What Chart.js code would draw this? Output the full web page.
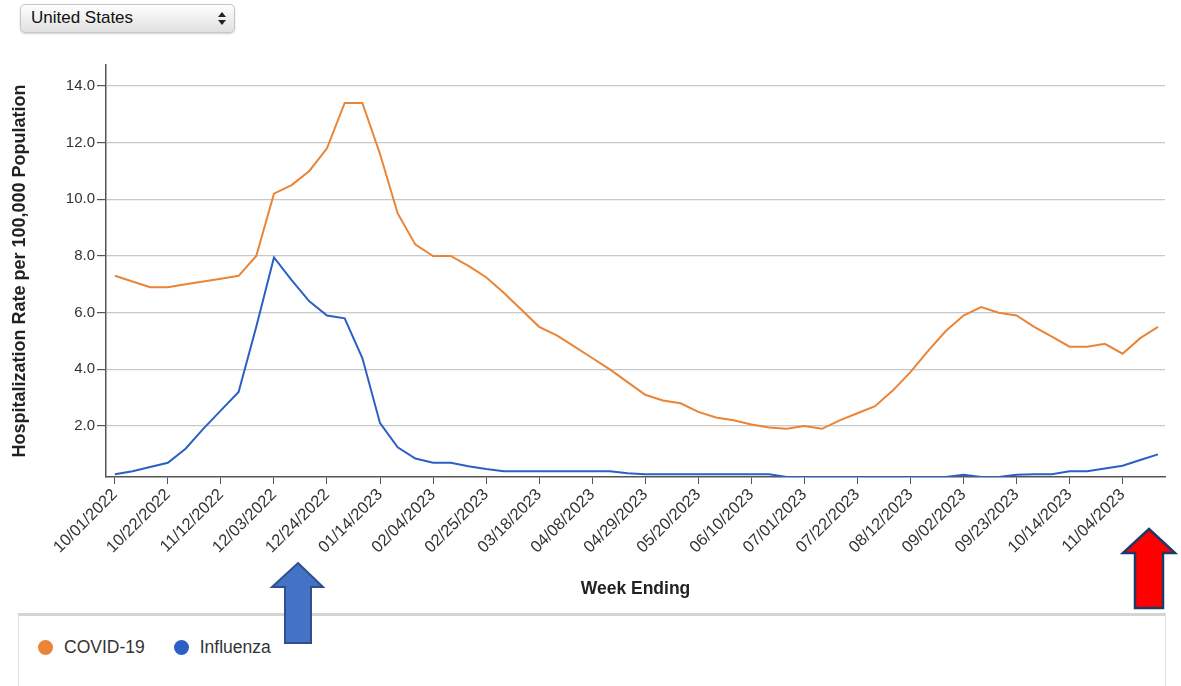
<!DOCTYPE html>
<html>
<head>
<meta charset="utf-8">
<script src="https://cdn.jsdelivr.net/npm/chart.js@4.4.0/dist/chart.umd.min.js"></script>
<style>
  body { margin: 0; background: #fff; font-family: "Liberation Sans", Arial, sans-serif; }
  #wrap { position: relative; width: 1181px; height: 686px; overflow: hidden; }
  #sel {
    position: absolute; left: 20px; top: 4px; width: 215px; height: 29px; box-sizing: border-box;
    border: 1px solid #c6c6c6; border-radius: 5px; background: linear-gradient(#fefefe, #e0e0e0);
    box-shadow: 0 1px 2px rgba(0,0,0,.18); font-size: 17px; line-height: 26px; padding-left: 10px; color: #111;
  }
  #sel .up, #sel .dn { position: absolute; right: 8px; width: 0; height: 0; border-left: 4px solid transparent; border-right: 4px solid transparent; }
  #sel .up { top: 7px; border-bottom: 5px solid #222; }
  #sel .dn { top: 15px; border-top: 5px solid #222; }
  #chartBox { position: absolute; left: 0; top: 0; width: 1181px; height: 610px; }
  #legend {
    position: absolute; left: 18px; top: 613px; width: 1148px; height: 90px; box-sizing: border-box;
    border: 1px solid #e4e4e4; border-top: 3px solid #d4d4d4; padding: 21px 0 0 19px;
  }
  .item { display: inline-flex; align-items: center; margin-right: 29px; font-size: 17.5px; color: #333; }
  .dot { width: 15px; height: 15px; border-radius: 50%; margin-right: 11px; }
  svg { position: absolute; left: 0; top: 0; }
</style>
</head>
<body>
<div id="wrap">
  <div id="sel">United States<i class="up"></i><i class="dn"></i></div>
  <div id="chartBox"><canvas id="hosp"></canvas></div>
  <div id="legend"></div>
  <svg width="1181" height="686">
    <polygon points="298,563 323,587 311,587 311,643 285,643 285,587 272,587" fill="#4472c4" stroke="#2f4f8f" stroke-width="2"/>
    <polygon points="1149,529 1175,553 1163,553 1163,608 1135,608 1135,553 1123,553" fill="#ff0000" stroke="#1f3864" stroke-width="2.5"/>
  </svg>
</div>
<script>
// week ending dates, weekly from 10/01/2022
const weeks = [];
for (let i = 0; i < 60; i++) {
  const d = new Date(Date.UTC(2022, 9, 1 + i * 7));
  const mm = String(d.getUTCMonth() + 1).padStart(2, '0');
  const dd = String(d.getUTCDate()).padStart(2, '0');
  weeks.push(mm + '/' + dd + '/' + d.getUTCFullYear());
}
const tickIdx = [0, 3, 6, 9, 12, 15, 18, 21, 24, 27, 30, 33, 36, 39, 42, 45, 48, 51, 54, 57];
const yTicks = [2, 4, 6, 8, 10, 12, 14];

const covid = [7.3, 7.1, 6.9, 6.9, 7.0, 7.1, 7.2, 7.3, 8.0, 10.2,
  10.5, 11.0, 11.8, 13.4, 13.4, 11.6, 9.5, 8.4, 8.0, 8.0,
  7.65, 7.25, 6.7, 6.1, 5.5, 5.2, 4.8, 4.4, 4.0, 3.55,
  3.1, 2.9, 2.8, 2.5, 2.3, 2.2, 2.05, 1.95, 1.9, 2.0,
  1.9, 2.2, 2.45, 2.7, 3.25, 3.9, 4.65, 5.35, 5.9, 6.2,
  6.0, 5.9, 5.5, 5.15, 4.8, 4.8, 4.9, 4.55, 5.1, 5.5];
const flu = [0.3, 0.4, 0.55, 0.7, 1.2, 1.9, 2.55, 3.2, 5.5, 7.95,
  7.15, 6.4, 5.9, 5.8, 4.4, 2.1, 1.25, 0.85, 0.7, 0.7,
  0.58, 0.48, 0.4, 0.4, 0.4, 0.4, 0.4, 0.4, 0.4, 0.33,
  0.3, 0.3, 0.3, 0.3, 0.3, 0.3, 0.3, 0.3, 0.2, 0.2,
  0.2, 0.2, 0.2, 0.2, 0.2, 0.2, 0.2, 0.2, 0.28, 0.2,
  0.2, 0.28, 0.3, 0.3, 0.4, 0.4, 0.5, 0.6, 0.8, 1.0];

const seriesNames = ['COVID-19', 'Influenza'];
const seriesColors = ['#ea8436', '#2c5fc4'];

const toPoints = arr => arr.map((v, i) => ({ x: i, y: v }));
const axisColor = '#555';
const fam = '"Liberation Sans", Arial, sans-serif';

const chart = new Chart(document.getElementById('hosp'), {
  type: 'line',
  data: {
    datasets: [
      { label: seriesNames[0], data: toPoints(covid), borderColor: seriesColors[0], backgroundColor: seriesColors[0] },
      { label: seriesNames[1], data: toPoints(flu), borderColor: seriesColors[1], backgroundColor: seriesColors[1] }
    ]
  },
  options: {
    responsive: true,
    maintainAspectRatio: false,
    animation: false,
    layout: { padding: { top: 65, right: 16 } },
    elements: { line: { borderWidth: 2, tension: 0 }, point: { radius: 0 } },
    plugins: { legend: { display: false }, tooltip: { enabled: false } },
    scales: {
      x: {
        type: 'linear', min: -0.5, max: 59.4,
        afterBuildTicks: axis => { axis.ticks = tickIdx.map(v => ({ value: v })); },
        afterFit: axis => { axis.height = 133; },
        ticks: {
          callback: v => weeks[v], minRotation: 45, maxRotation: 45, autoSkip: false,
          color: '#333', font: { size: 16.5, family: fam }, padding: 1
        },
        grid: { drawOnChartArea: false, tickLength: 7, color: axisColor },
        border: { color: axisColor, width: 1.5 },
        title: { display: true, text: 'Week Ending', color: '#222', padding: { top: 4, bottom: 10 },
          font: { size: 17.5, weight: 'bold', family: fam } }
      },
      y: {
        min: 0.2, max: 14.74,
        afterBuildTicks: axis => { axis.ticks = yTicks.map(v => ({ value: v })); },
        afterFit: axis => { axis.width = 106; },
        ticks: { callback: v => v.toFixed(1), color: '#333', font: { size: 15, family: fam }, padding: 2 },
        grid: { color: '#c8c8c8', lineWidth: 1.2, tickLength: 9, tickColor: axisColor },
        border: { color: axisColor, width: 1.5 },
        title: { display: true, text: 'Hospitalization Rate per 100,000 Population', color: '#222',
          padding: { top: 9, bottom: 0 }, font: { size: 18, weight: 'bold', family: fam } }
      }
    }
  }
});

// legend in its own box below the chart
const legend = document.getElementById('legend');
chart.data.datasets.forEach(ds => {
  const item = document.createElement('span');
  item.className = 'item';
  item.innerHTML = '<span class="dot" style="background:' + ds.borderColor + '"></span>' + ds.label;
  legend.appendChild(item);
});
</script>
</body>
</html>
